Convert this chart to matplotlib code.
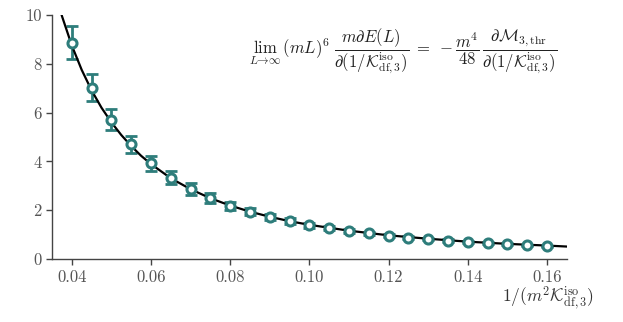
import numpy as np
import matplotlib
matplotlib.use("Agg")
import matplotlib.pyplot as plt

plt.rcParams["mathtext.fontset"] = "cm"
plt.rcParams["font.family"] = "serif"
plt.rcParams["font.serif"] = ["cmr10", "DejaVu Serif"]
plt.rcParams["axes.formatter.use_mathtext"] = True

# lattice points with error bars
x_data = [0.040, 0.045, 0.050, 0.055, 0.060, 0.065, 0.070, 0.075, 0.080,
          0.085, 0.090, 0.095, 0.100, 0.105, 0.110, 0.115, 0.120, 0.125,
          0.130, 0.135, 0.140, 0.145, 0.150, 0.155, 0.160]
y_data = [8.87, 7.02, 5.70, 4.70, 3.92, 3.33, 2.87, 2.50, 2.18,
          1.94, 1.72, 1.54, 1.39, 1.26, 1.15, 1.05, 0.96, 0.88,
          0.81, 0.75, 0.70, 0.64, 0.60, 0.56, 0.52]
y_err = [0.68, 0.55, 0.43, 0.36, 0.31, 0.26, 0.24, 0.20, 0.17,
         0.15, 0.13, 0.12, 0.10, 0.09, 0.08, 0.07, 0.06, 0.06,
         0.05, 0.05, 0.04, 0.04, 0.04, 0.03, 0.03]

# analytic curve
x_curve = [0.0370, 0.0375, 0.0400, 0.0425, 0.0450, 0.0475, 0.0500, 0.0525,
           0.0550, 0.0575, 0.0600, 0.0650, 0.0700, 0.0750, 0.0800, 0.0850,
           0.0900, 0.0950, 0.1000, 0.1100, 0.1200, 0.1300, 0.1400, 0.1500,
           0.1600, 0.1650]
y_curve = [10.25, 9.96, 8.75, 7.75, 6.91, 6.20, 5.60, 5.08,
           4.63, 4.23, 3.89, 3.31, 2.86, 2.49, 2.19, 1.94,
           1.73, 1.55, 1.40, 1.16, 0.97, 0.83, 0.71, 0.62,
           0.55, 0.51]

teal = "#2e7d7b"

fig = plt.figure(figsize=(6.23, 3.22), dpi=100)
ax = fig.add_axes([0.0835, 0.1957, 0.8261, 0.7577])

ax.errorbar(x_data, y_data, yerr=y_err, fmt="none", ecolor=teal,
            elinewidth=2, capsize=4, capthick=2, zorder=1)
ax.plot(x_curve, y_curve, color="black", lw=1.6, zorder=2)
ax.plot(x_data, y_data, "o", ms=6.5, mfc="white", mec=teal, mew=2.2, zorder=3)

ax.set_xlim(0.035, 0.165)
ax.set_ylim(0, 10)
ax.set_xticks([0.04, 0.06, 0.08, 0.10, 0.12, 0.14, 0.16])
ax.set_xticklabels(["0.04", "0.06", "0.08", "0.10", "0.12", "0.14", "0.16"])
ax.set_yticks([0, 2, 4, 6, 8, 10])
ax.set_yticklabels(["0", "2", "4", "6", "8", "10"])

for side in ["top", "right"]:
    ax.spines[side].set_visible(False)
for side in ["left", "bottom"]:
    ax.spines[side].set_color("#444444")
    ax.spines[side].set_linewidth(1.0)
ax.tick_params(colors="#444444", labelcolor="#555555", labelsize=12,
               length=4, width=1.0)

fig.text(0.953, 0.03, r"$1/(m^2\mathcal{K}_{\mathrm{df},3}^{\mathrm{iso}})$",
         ha="right", va="bottom", fontsize=12.5, color="#333333")

eq = (r"$\lim_{L\to\infty}\,(mL)^6\,\dfrac{m\partial E(L)}"
      r"{\partial(1/\mathcal{K}_{\mathrm{df},3}^{\mathrm{iso}})}"
      r"\;=\;-\dfrac{m^4}{48}\,\dfrac{\partial\mathcal{M}_{3,\mathrm{thr}}}"
      r"{\partial(1/\mathcal{K}_{\mathrm{df},3}^{\mathrm{iso}})}$")
fig.text(0.647, 0.84, eq, ha="center", va="center", fontsize=12,
         color="#222222")

fig.savefig("out.png", dpi=100)
